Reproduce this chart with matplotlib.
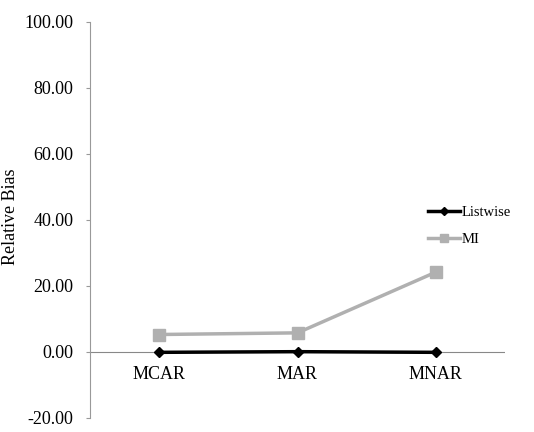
import matplotlib.pyplot as plt

plt.rcParams['font.family'] = ['Liberation Serif', 'DejaVu Serif']

categories = ['MCAR', 'MAR', 'MNAR']
listwise = [-0.1, 0.1, -0.1]
mi = [5.3, 5.8, 24.2]

fig = plt.figure(figsize=(5.34, 4.32), dpi=100)
ax = fig.add_axes([90 / 534, 14 / 432, 415 / 534, 396 / 432])

x = [0.5, 1.5, 2.5]
ax.plot(x, listwise, color='black', lw=2.5, marker='D', ms=5, label='Listwise', zorder=3)
ax.plot(x, mi, color='#b0b0b0', lw=2.5, marker='s', ms=8, label='MI', zorder=2)

ax.set_xlim(0, 3)
ax.set_ylim(-20, 100)
ax.set_yticks(range(-20, 101, 20))
ax.set_yticklabels(['%.2f' % v for v in range(-20, 101, 20)], fontsize=13)
fig.text(11 / 534, 1 - 217 / 432, 'Relative Bias', rotation=90,
         ha='center', va='center', fontsize=13)

ax.axhline(0, color='#888888', lw=0.8, zorder=1)
ax.set_xticks([])
for xi, c in zip(x, categories):
    ax.text(xi, -4.2, c, ha='center', va='top', fontsize=13)

for s in ['top', 'right', 'bottom']:
    ax.spines[s].set_visible(False)
ax.spines['left'].set_color('#999999')
ax.tick_params(axis='y', colors='#999999', labelcolor='black', length=3, pad=9)

ax.legend(loc='center left', bbox_to_anchor=(0.783, 0.485), frameon=False,
          fontsize=10.5, handlelength=2.2, labelspacing=1.0, handletextpad=0.1,
          markerscale=0.8)

fig.savefig('out.png', dpi=100)
